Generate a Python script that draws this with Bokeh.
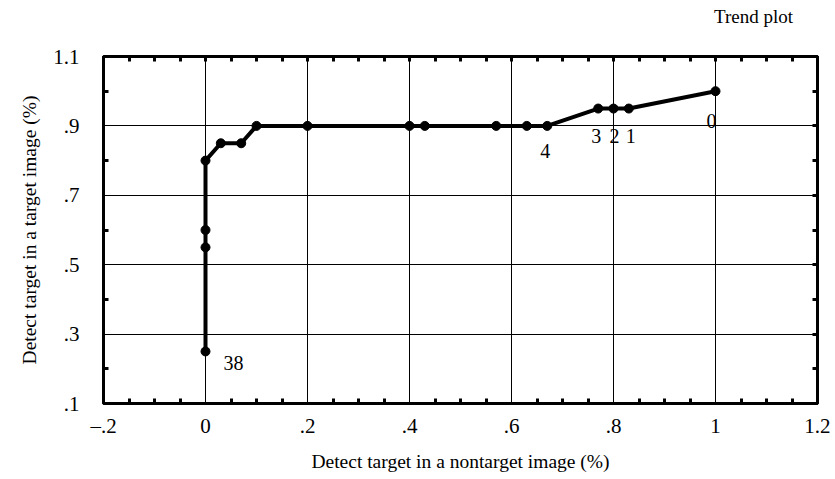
from bokeh.plotting import figure
from bokeh.models import FixedTicker, LinearAxis, Range1d, ColumnDataSource, Div
from bokeh.layouts import column
from bokeh.embed import file_html
from bokeh.resources import INLINE
from bokeh.core.properties import value

# data
fa_rate = [0.0, 0.0, 0.0, 0.0, 0.03, 0.07, 0.10, 0.20, 0.40, 0.43, 0.57, 0.63, 0.67, 0.77, 0.80, 0.83, 1.00]
hit_rate = [0.25, 0.55, 0.60, 0.80, 0.85, 0.85, 0.90, 0.90, 0.90, 0.90, 0.90, 0.90, 0.90, 0.95, 0.95, 0.95, 1.00]
label_idx = [0, 12, 13, 14, 15, 16]
label_txt = ["38", "4", "3", "2", "1", "0"]
label_dx = [28, -2, -2, 1, 2, -4]
label_dy = [12, 25, 27, 27, 27, 30]

x_ticks = [-0.2, 0.0, 0.2, 0.4, 0.6, 0.8, 1.0, 1.2]
x_tick_labels = ["\u2013.2", "0", ".2", ".4", ".6", ".8", "1", "1.2"]
x_minor = [-0.15, -0.1, -0.05, 0.05, 0.1, 0.15, 0.25, 0.3, 0.35, 0.45, 0.5, 0.55,
           0.65, 0.7, 0.75, 0.85, 0.9, 0.95, 1.05, 1.1, 1.15]
y_ticks = [0.1, 0.3, 0.5, 0.7, 0.9, 1.1]
y_tick_labels = [".1", ".3", ".5", ".7", ".9", "1.1"]
y_minor = [0.2, 0.4, 0.6, 0.8, 1.0]
chart_title = "Trend plot"

FONT = "Liberation Serif"

p = figure(width=830, height=436, output_backend="svg", toolbar_location=None,
           x_range=Range1d(-0.2, 1.2), y_range=Range1d(0.1, 1.1),
           min_border_left=103, min_border_right=13, min_border_top=18, min_border_bottom=0)
p.background_fill_color = "white"
p.border_fill_color = "white"
p.outline_line_color = "black"
p.outline_line_width = 3

xt = FixedTicker(ticks=x_ticks, minor_ticks=x_minor)
yt = FixedTicker(ticks=y_ticks, minor_ticks=y_minor)

def style_axis(ax, ticker, show_labels):
    ax.ticker = ticker
    ax.axis_line_width = 3
    ax.axis_line_color = "black"
    ax.major_tick_in = 0
    ax.major_tick_out = 0
    ax.minor_tick_in = 5
    ax.minor_tick_out = 0
    ax.minor_tick_line_width = 3
    ax.minor_tick_line_color = "black"
    if show_labels:
        ax.major_label_text_font = FONT
        ax.major_label_text_font_size = "21px"
        ax.major_label_text_color = "black"
        ax.axis_label_text_font = FONT
        ax.axis_label_text_font_size = "19.5px"
        ax.axis_label_text_font_style = "normal"
        ax.axis_label_text_color = "black"

xa = p.xaxis[0]
style_axis(xa, xt, True)
xa.major_label_overrides = dict(zip(x_ticks, x_tick_labels))
xa.axis_label = "Detect target in a nontarget image (%)"
xa.major_label_standoff = 10
xa.axis_label_standoff = 10

ya = p.yaxis[0]
style_axis(ya, yt, True)
ya.major_label_overrides = dict(zip(y_ticks, y_tick_labels))
ya.axis_label = "Detect target in a target image (%)"
ya.major_label_standoff = 24
ya.axis_label_standoff = 10

# frame sides with inward minor ticks only (no labels)
top = LinearAxis(ticker=FixedTicker(ticks=[], minor_ticks=x_ticks + x_minor))
style_axis(top, top.ticker, False)
p.add_layout(top, "above")
right = LinearAxis(ticker=FixedTicker(ticks=[], minor_ticks=y_ticks + y_minor))
style_axis(right, right.ticker, False)
p.add_layout(right, "right")

p.xgrid.ticker = FixedTicker(ticks=x_ticks)
p.ygrid.ticker = FixedTicker(ticks=y_ticks)
for g in (p.xgrid, p.ygrid):
    g.grid_line_color = "black"
    g.grid_line_width = 1
    g.grid_line_alpha = 1

p.line(fa_rate, hit_rate, line_width=4, color="black")
p.scatter(fa_rate, hit_rate, size=9, color="black")

src = ColumnDataSource(dict(
    x=[fa_rate[i] for i in label_idx],
    y=[hit_rate[i] for i in label_idx],
    t=label_txt, dx=label_dx, dy=label_dy))
p.text(x="x", y="y", text="t", x_offset="dx", y_offset="dy", source=src,
       text_font=value(FONT), text_font_size="20px", text_color="black",
       text_align="center", text_baseline="middle")

title_div = Div(text=chart_title, width=793, height=38, margin=(0, 0, 0, 0),
                styles={"font-family": FONT, "font-size": "19px", "color": "black",
                        "text-align": "right", "line-height": "34px", "width": "793px"})

layout = column(title_div, p, spacing=0)
open("out.html", "w").write(file_html(layout, INLINE))
